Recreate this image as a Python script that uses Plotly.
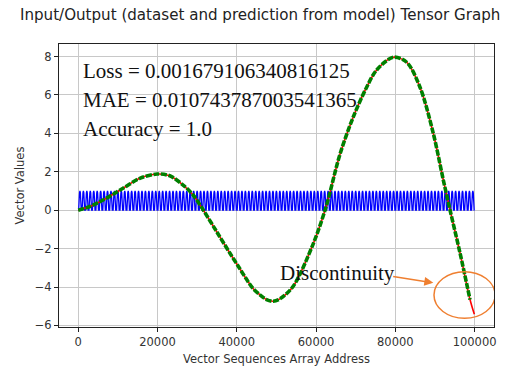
import numpy as np
import plotly.graph_objects as go

# ---- data ----
dataset_x = [0, 2900, 6260, 11310, 15530, 19900, 23100, 26460, 28990, 31510, 34900,
             38250, 40780, 42470, 44000, 45800, 47500, 49190, 51000, 54240, 59290,
             62490, 66020, 69390, 72770, 75300, 79490, 82870, 86230, 89590, 92110,
             93800, 96330, 98850]
dataset_y = [0.0, 0.19, 0.53, 1.14, 1.66, 1.88, 1.79, 1.31, 0.79, 0.02, -1.11,
             -2.23, -3.05, -3.6, -4.05, -4.4, -4.65, -4.74, -4.6, -3.96, -1.75,
             0.15, 2.9, 4.85, 6.40, 7.30, 7.96, 7.70, 6.40, 3.99, 1.57,
             0.02, -2.23, -4.65]

prediction_x = dataset_x + [99940]
prediction_y = dataset_y + [-5.42]

# one period of the blue input waveform (0..1), repeated across the address range
blue_wave_period = [0.0, 0.0, 0.45, 0.9, 1.0, 0.9, 0.45, 0.0]
blue_cycles = 115
blue_values = blue_wave_period * blue_cycles + [0.0]
blue_address = np.linspace(0, 100000, len(blue_values))

metric_lines = ["Loss = 0.001679106340816125",
                "MAE = 0.010743787003541365",
                "Accuracy = 1.0"]
metric_y = [7.27, 5.75, 4.25]

x_ticks = [0, 20000, 40000, 60000, 80000, 100000]
y_ticks = [-6, -4, -2, 0, 2, 4, 6, 8]

title_text = "Input/Output (dataset and prediction from model) Tensor Graph"
orange = "#ef7f30"

fig = go.Figure()
fig.add_trace(go.Scatter(x=blue_address, y=blue_values, mode="lines",
                         line=dict(color="#0000ff", width=1.3, simplify=False), showlegend=False))
fig.add_trace(go.Scatter(x=prediction_x, y=prediction_y, mode="lines",
                         line=dict(color="#ff0000", width=1.6, shape="spline", smoothing=0.9),
                         showlegend=False))
fig.add_trace(go.Scatter(x=dataset_x, y=dataset_y, mode="lines",
                         line=dict(color="#008000", width=3.6, shape="spline", smoothing=0.9,
                                   dash="6px,1.6px"),
                         showlegend=False))

for txt, yv in zip(metric_lines, metric_y):
    fig.add_annotation(x=700, y=yv, xref="x", yref="y", text=txt, showarrow=False,
                       xanchor="left", yanchor="middle",
                       font=dict(family="Liberation Serif", size=21, color="#111"))

fig.add_annotation(x=50500, y=-3.25, xref="x", yref="y", text="Discontinuity",
                   showarrow=False, xanchor="left", yanchor="middle",
                   font=dict(family="Liberation Serif", size=21, color="#111"))
fig.add_annotation(x=89590, y=-3.78, ax=79080, ay=-3.44, xref="x", yref="y",
                   axref="x", ayref="y", text="", showarrow=True, arrowhead=2,
                   arrowsize=1.2, arrowwidth=1.5, arrowcolor=orange)
fig.add_shape(type="circle", xref="x", yref="y", x0=89760, x1=105170, y0=-5.63, y1=-3.20,
              line=dict(color=orange, width=1.5))

axis_common = dict(showgrid=True, gridcolor="#c8c8c8", gridwidth=1.2,
                   showline=True, linecolor="#222", linewidth=1.2, mirror=True,
                   ticks="outside", ticklen=4, tickcolor="#222", zeroline=False,
                   automargin=False,
                   tickfont=dict(family="DejaVu Sans", size=11.5, color="#333"))

fig.update_xaxes(range=[-4850, 104900], tickvals=x_ticks, ticktext=[str(v) for v in x_ticks],
                 title=dict(text="Vector Sequences Array Address", standoff=7,
                            font=dict(family="DejaVu Sans", size=11.5, color="#333")),
                 **axis_common)
fig.update_yaxes(range=[-6.08, 8.65], tickvals=y_ticks,
                 title=dict(text="Vector Values", standoff=7,
                            font=dict(family="DejaVu Sans", size=11.5, color="#333")),
                 **axis_common)

fig.update_layout(width=519, height=369,
                  margin=dict(l=59, r=25, t=44, b=42),
                  paper_bgcolor="white", plot_bgcolor="white",
                  title=dict(text=title_text, xref="container", x=20 / 519, xanchor="left",
                             yref="container", y=1 - 15 / 369, yanchor="middle",
                             font=dict(family="DejaVu Sans", size=15.1, color="#222")))

fig.write_html("out.html", config={"displayModeBar": False},
               post_script="document.body.style.margin='0';")
